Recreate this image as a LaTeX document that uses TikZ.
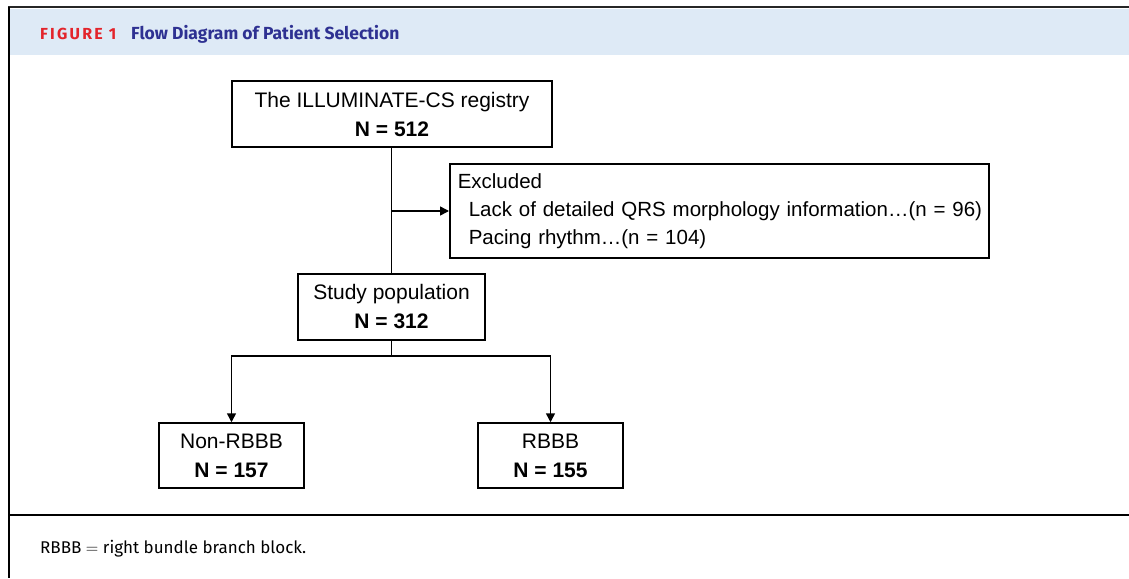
\documentclass[tikz,border=0pt]{standalone}
\usepackage{fontspec}
\setmainfont{Liberation Sans}
\newfontfamily\hdrfont{Fira Sans}
\usetikzlibrary{arrows.meta}
\definecolor{bandblue}{HTML}{DEEAF6}
\definecolor{figred}{HTML}{E3242B}
\definecolor{figblue}{HTML}{2E3192}
\tikzset{
  box/.style={draw=black, line width=1.5pt, inner sep=0pt, align=center,
    font=\fontsize{21}{29}\selectfont},
  conn/.style={line width=1.5pt},
  arr/.style={conn, -{Triangle[width=9pt,length=9pt]}},
}
\begin{document}
\begin{tikzpicture}[x=1pt,y=-1pt]
\useasboundingbox (0,0) rectangle (1129,578);
\fill[white] (0,0) rectangle (1129,578);
% header band
\fill[bandblue] (9,9) rectangle (1129,55);
\draw[line width=2pt, black!85] (8,7.5) -- (1129,7.5);
\draw[line width=1.5pt] (9,7) -- (9,578);
\draw[line width=1.2pt] (9,515) -- (1129,515);
\node[anchor=base west, inner sep=0pt, text=figred, font=\hdrfont\bfseries\fontsize{16}{18}\selectfont\addfontfeature{LetterSpace=14}] (figlbl) at (40,39.5) {FIGURE 1};
\node[anchor=base west, inner sep=0pt, text=figblue, font=\hdrfont\bfseries\fontsize{17.5}{20}\selectfont] (figttl) at (131,39.5) {Flow Diagram of Patient Selection};
\node[anchor=base west, inner sep=0pt, font=\hdrfont\fontsize{17}{20}\selectfont] (foot) at (40,553) {RBBB $=$ right bundle branch block.};
% boxes
\node[box, minimum width=320pt, minimum height=66pt] (reg) at (392,114) {The ILLUMINATE-CS registry\\\textbf{N = 512}};
\node[box, text width=523pt, inner xsep=8pt, minimum height=94pt, align=left, anchor=west,
  font=\fontsize{20.5}{28}\selectfont] (exc) at (449,211)
  {\mbox{Excluded}\\\mbox{\hspace*{11pt}Lack of detailed QRS morphology information\ldots(n = 96)}\\\mbox{\hspace*{11pt}Pacing rhythm\ldots(n = 104)}};
\node[box, minimum width=187pt, minimum height=66pt] (study) at (391.5,307) {Study population\\\textbf{N = 312}};
\node[box, minimum width=145pt, minimum height=65pt] (non) at (231.5,455.5) {Non-RBBB\\\textbf{N = 157}};
\node[box, minimum width=145pt, minimum height=65pt] (rbbb) at (550.5,455.5) {RBBB\\\textbf{N = 155}};
% connectors
\coordinate (split) at (391.5,211);
\coordinate (fork) at (391.5,356);
\draw[conn] (reg.south -| split) -- (study.north -| split);
\draw[arr] (split) -- (exc.west);
\draw[conn] (study.south) -- (fork);
\draw[arr] (fork) -| (non.north);
\draw[arr] (fork) -| (rbbb.north);
\end{tikzpicture}
\end{document}
